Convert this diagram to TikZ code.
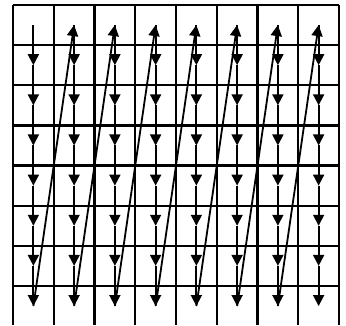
\documentclass[tikz,border=0pt]{standalone}
\usetikzlibrary{arrows.meta}
\begin{document}
\begin{tikzpicture}[x=1pt,y=-1pt,
  gridline/.style={line width=2.4pt,black},
  flow/.style={line width=1.8pt,black,-{Triangle[length=11pt,width=11pt]}}]
\useasboundingbox (0,0) rectangle (346,325);
% grid
\foreach \i in {0,...,8}{
  \draw[gridline] ({13+40.75*\i},5) -- ({13+40.75*\i},325);
}
\foreach \j in {0,...,7}{
  \draw[gridline] (13,{5+40.14*\j}) -- (339,{5+40.14*\j});
}
% cell centres
\foreach \i in {1,...,8}{
  \foreach \j in {1,...,8}{
    \coordinate (c-\i-\j) at ({13+40.75*(\i-0.5)},{5+40.14*(\j-0.5)});
  }
}
% vertical scans
\foreach \i in {1,...,8}{
  \foreach \j [evaluate=\j as \k using int(\j-1)] in {2,...,8}{
    \draw[flow] (c-\i-\k) -- (c-\i-\j);
  }
}
% diagonal returns
\foreach \i [evaluate=\i as \n using int(\i+1)] in {1,...,7}{
  \draw[flow] (c-\i-8) -- (c-\n-1);
}
\end{tikzpicture}
\end{document}
